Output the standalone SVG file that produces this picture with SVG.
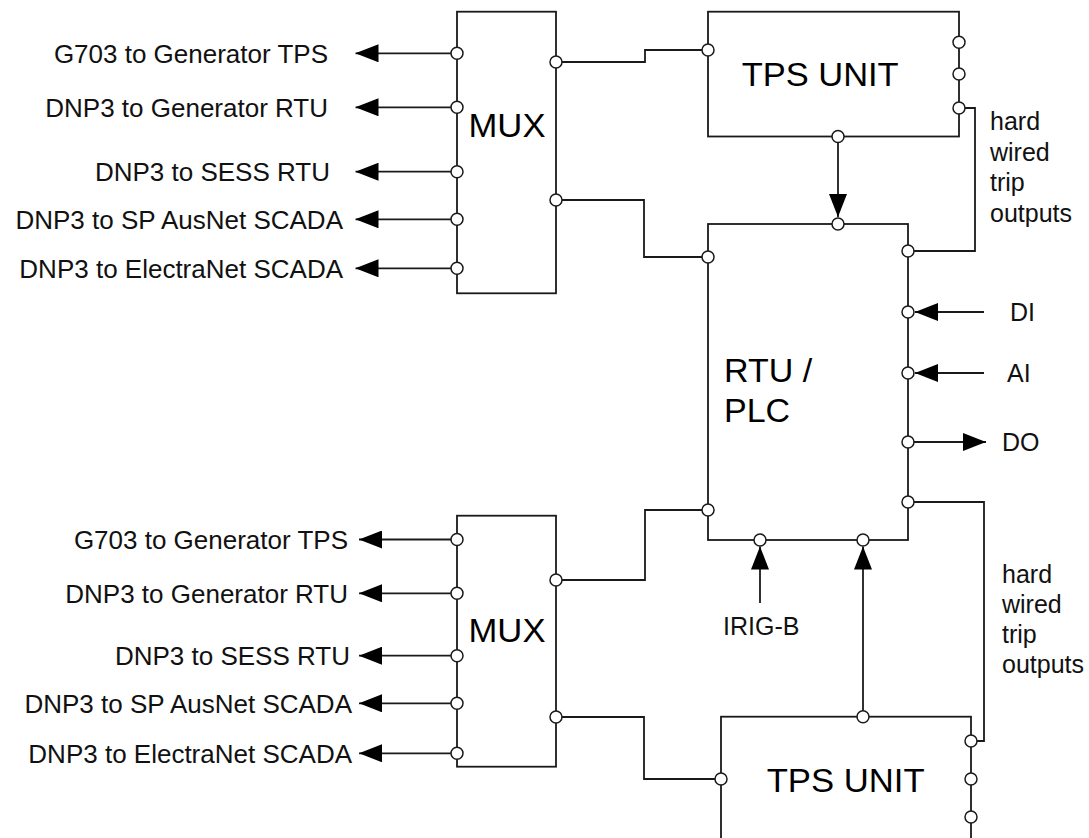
<svg xmlns="http://www.w3.org/2000/svg" width="1089" height="838" viewBox="0 0 1089 838">
<defs>
<marker id="ah" viewBox="0 0 23 18" refX="23" refY="9" markerWidth="23" markerHeight="18" markerUnits="userSpaceOnUse" orient="auto"><path d="M0,0 L23,9 L0,18 z" fill="#000"/></marker>
</defs>
<style>
.box{fill:#fff;stroke:#1a1a1a;stroke-width:1.8}
.port{fill:#fff;stroke:#1a1a1a;stroke-width:1.5}
.wire{fill:none;stroke:#1a1a1a;stroke-width:1.8}
.arr{fill:none;stroke:#1a1a1a;stroke-width:1.8;marker-end:url(#ah)}
.lbl{font-family:"Liberation Sans",Arial,sans-serif;font-size:26px;fill:#111}
.sm{font-family:"Liberation Sans",Arial,sans-serif;font-size:25px;fill:#111}
.big{font-family:"Liberation Sans",Arial,sans-serif;font-size:34px;fill:#000}
</style>
<rect x="0" y="0" width="1089" height="838" fill="#fff"/>

<g id="connectors">
  <!-- top MUX outputs -->
  <line class="arr" x1="457" y1="53.3" x2="355.5" y2="53.3"/>
  <line class="arr" x1="457" y1="107.3" x2="355.5" y2="107.3"/>
  <line class="arr" x1="457" y1="171.7" x2="355.5" y2="171.7"/>
  <line class="arr" x1="457" y1="219.3" x2="355.5" y2="219.3"/>
  <line class="arr" x1="457" y1="268.3" x2="355.5" y2="268.3"/>
  <!-- MUX1 to TPS1 -->
  <polyline class="wire" points="556,62 645,62 645,50 708,50"/>
  <!-- MUX1 to RTU -->
  <polyline class="wire" points="556,200 644,200 644,257 708,257"/>
  <!-- TPS1 to RTU -->
  <line class="arr" x1="838" y1="136.5" x2="838" y2="217"/>
  <!-- TPS1 hard wired to RTU -->
  <polyline class="wire" points="959,108 975,108 975,251 908,251"/>
  <!-- DI AI DO -->
  <line class="arr" x1="984" y1="312" x2="915" y2="312"/>
  <line class="arr" x1="984" y1="373" x2="915" y2="373"/>
  <line class="arr" x1="908" y1="442" x2="986" y2="442"/>
  <!-- RTU hard wired to TPS2 -->
  <polyline class="wire" points="908,502 984,502 984,741 971,741"/>
  <!-- MUX2 to RTU -->
  <polyline class="wire" points="556,580 645,580 645,510 708,510"/>
  <!-- MUX2 to TPS2 -->
  <polyline class="wire" points="556,717 644,717 644,779 721,779"/>
  <!-- IRIG-B -->
  <line class="arr" x1="760" y1="603" x2="760" y2="546.5"/>
  <!-- TPS2 to RTU -->
  <line class="arr" x1="863" y1="717" x2="863" y2="546.5"/>
  <!-- bottom MUX outputs -->
  <line class="arr" x1="457" y1="539.5" x2="359" y2="539.5"/>
  <line class="arr" x1="457" y1="593.3" x2="359" y2="593.3"/>
  <line class="arr" x1="457" y1="655.7" x2="359" y2="655.7"/>
  <line class="arr" x1="457" y1="703.3" x2="359" y2="703.3"/>
  <line class="arr" x1="457" y1="753.3" x2="359" y2="753.3"/>
</g>

<g id="labels">
  <text class="lbl" text-anchor="end" x="328" y="63">G703 to Generator TPS</text>
  <text class="lbl" text-anchor="end" x="328" y="117">DNP3 to Generator RTU</text>
  <text class="lbl" text-anchor="end" x="330" y="181">DNP3 to SESS RTU</text>
  <text class="lbl" text-anchor="end" x="343" y="229">DNP3 to SP AusNet SCADA</text>
  <text class="lbl" text-anchor="end" x="343" y="278">DNP3 to ElectraNet SCADA</text>

  <text class="lbl" text-anchor="end" x="348" y="549">G703 to Generator TPS</text>
  <text class="lbl" text-anchor="end" x="348" y="603">DNP3 to Generator RTU</text>
  <text class="lbl" text-anchor="end" x="350" y="665">DNP3 to SESS RTU</text>
  <text class="lbl" text-anchor="end" x="352" y="713">DNP3 to SP AusNet SCADA</text>
  <text class="lbl" text-anchor="end" x="352" y="763">DNP3 to ElectraNet SCADA</text>

  <text class="sm" x="990" y="130">hard</text>
  <text class="sm" x="990" y="160.5">wired</text>
  <text class="sm" x="990" y="191">trip</text>
  <text class="sm" x="990" y="221.5">outputs</text>

  <text class="sm" x="1002" y="583">hard</text>
  <text class="sm" x="1002" y="613">wired</text>
  <text class="sm" x="1002" y="643">trip</text>
  <text class="sm" x="1002" y="673">outputs</text>

  <text class="sm" x="1010" y="321">DI</text>
  <text class="sm" x="1007" y="382">AI</text>
  <text class="sm" x="1002" y="451">DO</text>
  <text class="sm" x="723" y="635">IRIG-B</text>
</g>

<g id="mux1">
  <rect class="box" x="457" y="11.7" width="99" height="281.6"/>
  <text class="big" x="468.5" y="136.7" textLength="77" lengthAdjust="spacingAndGlyphs">MUX</text>
  <circle class="port" cx="457" cy="53.3" r="6"/>
  <circle class="port" cx="457" cy="107.3" r="6"/>
  <circle class="port" cx="457" cy="171.7" r="6"/>
  <circle class="port" cx="457" cy="219.3" r="6"/>
  <circle class="port" cx="457" cy="268.3" r="6"/>
  <circle class="port" cx="556" cy="62" r="6"/>
  <circle class="port" cx="556" cy="200" r="6"/>
</g>

<g id="tps1">
  <rect class="box" x="708" y="11.7" width="251" height="124.8"/>
  <text class="big" x="741.7" y="86" textLength="157" lengthAdjust="spacingAndGlyphs">TPS UNIT</text>
  <circle class="port" cx="708" cy="50" r="6"/>
  <circle class="port" cx="959" cy="42.3" r="6"/>
  <circle class="port" cx="959" cy="74" r="6"/>
  <circle class="port" cx="959" cy="108" r="6"/>
  <circle class="port" cx="838" cy="136.5" r="6"/>
</g>

<g id="rtu">
  <rect class="box" x="708" y="224" width="200" height="316"/>
  <text class="big" x="724" y="382">RTU /</text>
  <text class="big" x="724" y="422">PLC</text>
  <circle class="port" cx="838" cy="224" r="6"/>
  <circle class="port" cx="708" cy="257" r="6"/>
  <circle class="port" cx="708" cy="510" r="6"/>
  <circle class="port" cx="908" cy="251" r="6"/>
  <circle class="port" cx="908" cy="312" r="6"/>
  <circle class="port" cx="908" cy="373" r="6"/>
  <circle class="port" cx="908" cy="442" r="6"/>
  <circle class="port" cx="908" cy="502" r="6"/>
  <circle class="port" cx="760" cy="540" r="6"/>
  <circle class="port" cx="863" cy="540" r="6"/>
</g>

<g id="mux2">
  <rect class="box" x="457" y="515.7" width="99" height="251"/>
  <text class="big" x="468.5" y="641.7" textLength="77" lengthAdjust="spacingAndGlyphs">MUX</text>
  <circle class="port" cx="457" cy="539.5" r="6"/>
  <circle class="port" cx="457" cy="593.3" r="6"/>
  <circle class="port" cx="457" cy="655.7" r="6"/>
  <circle class="port" cx="457" cy="703.3" r="6"/>
  <circle class="port" cx="457" cy="753.3" r="6"/>
  <circle class="port" cx="556" cy="580" r="6"/>
  <circle class="port" cx="556" cy="717" r="6"/>
</g>

<g id="tps2">
  <rect class="box" x="721" y="716.7" width="250" height="160"/>
  <text class="big" x="766.7" y="792" textLength="158" lengthAdjust="spacingAndGlyphs">TPS UNIT</text>
  <circle class="port" cx="863" cy="716.7" r="6"/>
  <circle class="port" cx="721" cy="779" r="6"/>
  <circle class="port" cx="971" cy="741" r="6"/>
  <circle class="port" cx="971" cy="779" r="6"/>
  <circle class="port" cx="971" cy="817" r="6"/>
</g>
</svg>
